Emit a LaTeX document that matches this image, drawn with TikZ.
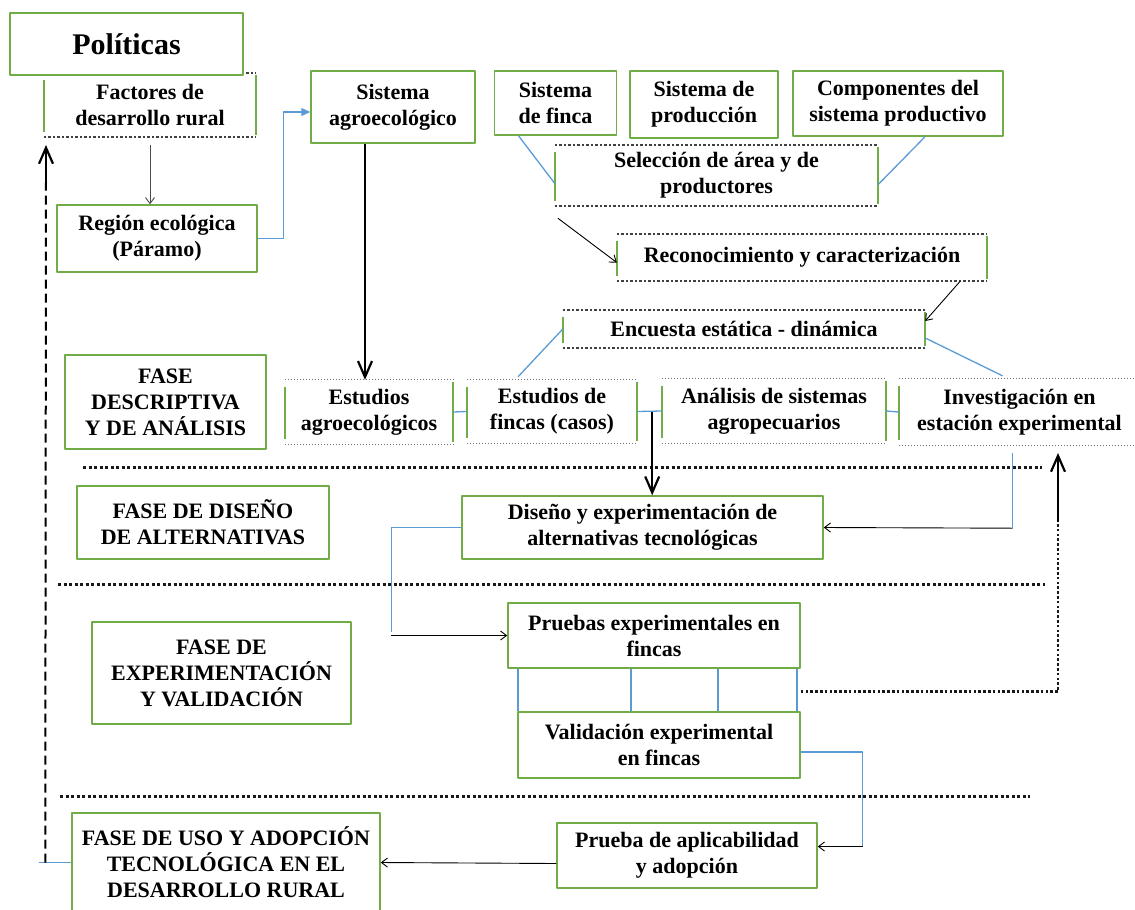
\documentclass[tikz,border=0pt]{standalone}
\usepackage{fontspec}
\setmainfont{Liberation Serif}
\usetikzlibrary{arrows.meta,calc}
\definecolor{verde}{HTML}{70AD47}
\definecolor{azul}{HTML}{5B9BD5}

% caja abierta: bordes punteados arriba/abajo, lados verdes
\newcommand{\partbox}[2][dotedge]{%
  \draw[#1] (#2.north west) -- (#2.north east) (#2.south west) -- (#2.south east);
  \draw[lado] ([yshift=-7pt]#2.north west) -- ([yshift=5pt]#2.south west)
              ([yshift=-2pt]#2.north east) -- ([yshift=2pt]#2.south east);}

\begin{document}
\begin{tikzpicture}[x=1pt, y=-1pt, line join=round,
    txt/.style={align=center, inner sep=0pt, font=\fontsize{22}{26}\selectfont\bfseries},
    caja/.style={txt, draw=verde, line width=1.5pt, fill=white},
    media/.style={txt},
    lado/.style={draw=verde, line width=1.5pt},
    dotedge/.style={line width=1.8pt, dash pattern=on 2.5pt off 2pt, black!75},
    dotfine/.style={line width=1.1pt, dash pattern=on 1.5pt off 1.5pt, black!55},
    sepline/.style={line width=3pt, dash pattern=on 3pt off 2.5pt, black!90},
    loopline/.style={line width=2.6pt, dash pattern=on 2.6pt off 2.2pt, black!90},
    dashline/.style={line width=2pt, dash pattern=on 9pt off 5pt},
    blueline/.style={draw=azul, line width=1.3pt},
    bluearrow/.style={blueline, -{Triangle[length=9pt,width=8pt]}},
    thinarrow/.style={line width=0.9pt, -{Straight Barb[length=6pt,width=9pt]}},
    bigarrow/.style={line width=2.2pt, -{Straight Barb[length=16pt,width=14pt]}}]

    \useasboundingbox (0,0) rectangle (1135,910);

    % Parte superior
    \node[media, minimum width=212pt, minimum height=64pt] (fac) at (150,105) {Factores de\\desarrollo rural};
    \partbox{fac}
    \node[caja, minimum width=233pt, minimum height=62pt, font=\fontsize{30}{34}\selectfont\bfseries] (pol) at (126.5,44) {Políticas};
    \node[caja, minimum width=200pt, minimum height=67pt] (reg) at (157,238.5) {Región ecológica\\(Páramo)};
    \node[caja, minimum width=164pt, minimum height=72pt] (sag) at (393,107) {Sistema\\agroecológico};
    \node[caja, minimum width=122pt, minimum height=64pt] (sfin) at (555.5,103) {Sistema\\de finca};
    \node[caja, minimum width=148pt, minimum height=67pt] (sprod) at (704,104.5) {Sistema de\\producción};
    \node[caja, minimum width=210pt, minimum height=65pt] (scomp) at (898,103.5) {Componentes del\\sistema productivo};

    \node[media, minimum width=323pt, minimum height=61pt] (sel) at (716.5,175.5) {Selección de área y de\\productores};
    \partbox{sel}
    \node[media, minimum width=370pt, minimum height=47pt] (rec) at (802,257.5) {Reconocimiento y caracterización};
    \partbox{rec}
    \node[media, minimum width=362pt, minimum height=38pt] (enc) at (744,329) {Encuesta estática - dinámica};
    \partbox{enc}

    % Estudios
    \node[media, minimum width=168pt, minimum height=64pt] (eag) at (369,412) {Estudios\\agroecológicos};
    \partbox[dotfine]{eag}
    \node[media, minimum width=170pt, minimum height=63pt] (efin) at (552,411.5) {Estudios de\\fincas (casos)};
    \partbox[dotfine]{efin}
    \node[media, minimum width=224pt, minimum height=64pt] (asis) at (774,411) {Análisis de sistemas\\agropecuarios};
    \partbox[dotfine]{asis}
    \node[media, minimum width=241pt, minimum height=66pt] (inv) at (1019.5,412) {Investigación en\\estación experimental};
    \partbox[dotfine]{inv}

    % Fases
    \node[caja, minimum width=201pt, minimum height=94pt] (fdes) at (165.5,402) {FASE\\DESCRIPTIVA\\Y DE ANÁLISIS};
    \node[caja, minimum width=252pt, minimum height=73pt] (fdis) at (203,522.5) {FASE DE DISEÑO\\DE ALTERNATIVAS};
    \node[caja, minimum width=259pt, minimum height=102pt] (fexp) at (221.5,673) {FASE DE\\EXPERIMENTACIÓN\\Y VALIDACIÓN};
    \node[caja, minimum width=308pt, minimum height=99pt] (fuso) at (226,862.5) {FASE DE USO Y ADOPCIÓN\\TECNOLÓGICA EN EL\\DESARROLLO RURAL};

    \node[caja, minimum width=361pt, minimum height=63pt] (dis) at (642.5,527.5) {Diseño y experimentación de\\alternativas tecnológicas};
    \node[caja, minimum width=292pt, minimum height=65pt] (pru) at (654,635.5) {Pruebas experimentales en\\fincas};
    \node[caja, minimum width=282pt, minimum height=66pt] (val) at (659,745) {Validación experimental\\en fincas};
    \node[caja, minimum width=260pt, minimum height=65pt] (apl) at (687,855.5) {Prueba de aplicabilidad\\y adopción};

    % Separadores
    \draw[sepline] (83,467) -- (1042,467);
    \draw[sepline] (58,584) -- (1045,584);
    \draw[sepline] (60,796) -- (1030,796);

    % Conexiones
    \draw[thinarrow, black!70] ([yshift=-8pt]fac.south) -- (fac.south |- reg.north);
    \draw[bluearrow] (reg.east) -- ++(26,0) |- ([yshift=-5pt]sag.west);
    \draw[bigarrow] ([xshift=-28pt]sag.south) -- ([xshift=-4pt]eag.north);
    \draw[blueline] ([xshift=-37pt]sfin.south) -- ([yshift=-8pt]sel.west);
    \draw[blueline] ([xshift=27pt]scomp.south) -- ([yshift=-9pt]sel.east);
    \draw[thinarrow] ([shift={(3pt,-12pt)}]sel.south west) -- ([yshift=-5pt]rec.west);
    \draw[thinarrow] ([xshift=-27pt]rec.south east) -- ([yshift=8pt]enc.east);
    \draw[blueline] (enc.west) -- ([shift={(-34pt,3pt)}]efin.north);
    \draw[blueline] ([yshift=-9pt]enc.east) -- ([shift={(-17pt,3pt)}]inv.north);
    \draw[blueline] (eag.east) -- (efin.west);
    \draw[blueline] (efin.east) -- (asis.west);
    \draw[blueline] (asis.east) -- (inv.west);
    \draw[bigarrow] ([xshift=15pt]efin.east) -- ([xshift=15pt]efin.east |- dis.north);

    \draw[blueline] ([shift={(-7pt,-8pt)}]inv.south) -- ++(0,75) coordinate (k1);
    \draw[thinarrow] (k1) -- (dis.east);

    \draw[blueline] (dis.west) -- ++(-70,0) coordinate (k2) -- ++(0,104);
    \draw[thinarrow] (k2 |- pru.west) -- (pru.west);

    \foreach \xx in {518,631,718,797}
        \draw[blueline] (\xx,0 |- pru.south) -- (\xx,0 |- val.north);

    \coordinate (k3) at (1058,522);
    \draw[loopline] ([yshift=-23pt]pru.south east) -| (k3);
    \draw[bigarrow] (k3) -- ++(0,-69);

    \coordinate (k4) at ([shift={(45pt,9pt)}]apl.east);
    \draw[blueline] ([yshift=-7pt]val.east) -| (k4);
    \draw[thinarrow] (k4) -- ([yshift=9pt]apl.east);
    \draw[thinarrow] ([yshift=-8pt]apl.west) -- (fuso.east);

    % Retorno a Factores
    \draw[blueline] (fuso.west) -- ++(-32,0);
    \coordinate (k5) at (46,182);
    \draw[dashline] ([xshift=-26pt]fuso.west) -- (k5);
    \draw[bigarrow] (k5) -- ++(0,-37);
\end{tikzpicture}
\end{document}
